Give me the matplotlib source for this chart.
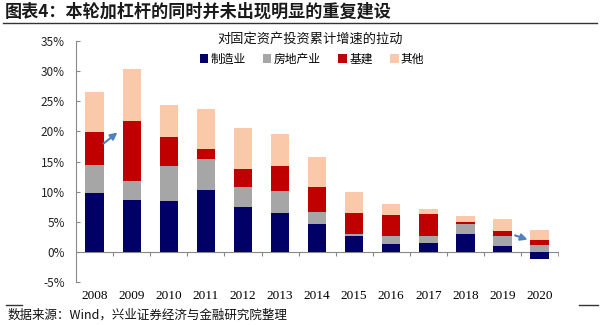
import numpy as np
import matplotlib
matplotlib.use("Agg")
from matplotlib import pyplot as plt
from matplotlib.lines import Line2D
from matplotlib.ticker import FuncFormatter

plt.rcParams['font.family'] = ['Noto Sans CJK SC', 'DejaVu Sans']

years = ['2008', '2009', '2010', '2011', '2012', '2013', '2014',
         '2015', '2016', '2017', '2018', '2019', '2020']
series_names = ['制造业', '房地产业', '基建', '其他']
manufacturing = [9.7, 8.6, 8.4, 10.2, 7.5, 6.4, 4.6, 2.7, 1.4, 1.5, 2.9, 1.0, -1.1]
real_estate = [4.7, 3.2, 5.9, 5.2, 3.2, 3.7, 2.0, 0.2, 1.2, 1.2, 1.7, 1.7, 1.2]
infrastructure = [5.5, 9.9, 4.7, 1.6, 3.0, 4.2, 4.1, 3.6, 3.5, 3.6, 0.4, 0.8, 0.8]
other = [6.6, 8.6, 5.4, 6.7, 6.8, 5.2, 5.0, 3.5, 1.9, 0.9, 1.0, 1.9, 1.7]
colors = ['#000066', '#a6a6a6', '#c00000', '#f9c9a9']

fig = plt.figure(figsize=(6, 3.25), dpi=100)
ax = fig.add_axes([0.127, 0.132, 0.803, 0.742])

x = np.arange(len(years))
pos_base = np.zeros(len(years))
neg_base = np.zeros(len(years))
handles = []
for vals, name, c in zip([manufacturing, real_estate, infrastructure, other], series_names, colors):
    v = np.array(vals)
    bottom = np.where(v >= 0, pos_base, neg_base)
    h = ax.bar(x, v, 0.5, bottom=bottom, color=c, label=name)
    handles.append(h)
    pos_base = pos_base + np.where(v >= 0, v, 0)
    neg_base = neg_base + np.where(v < 0, v, 0)

ax.set_xlim(-0.5, len(years) - 0.5)
ax.set_ylim(-5, 35)
ax.set_yticks(np.arange(-5, 36, 5))
ax.yaxis.set_major_formatter(FuncFormatter(lambda v, p: f'{v:.0f}%'))
ax.tick_params(axis='y', direction='in', length=3, color='#888888', labelsize=8.5,
               labelcolor='#222222', pad=8)
ax.set_xticks(x)
ax.set_xticklabels(years, family=['Liberation Serif'], fontsize=9.5)
ax.tick_params(axis='x', length=0, pad=6)
for s in ['top', 'right', 'bottom']:
    ax.spines[s].set_visible(False)
ax.spines['left'].set_color('#888888')

# zero line with separator ticks
zero = ax.secondary_xaxis(0, transform=ax.transData)
zero.set_xticks(x[:-1] + 0.5)
zero.set_xticks([len(years) - 0.5], minor=True)
zero.tick_params(which='both', direction='out', length=3, color='#888888', labelbottom=False)
zero.spines['bottom'].set_color('#888888')

# arrows
arrow = dict(arrowstyle='-|>', color='#4f81bd', lw=1.5, mutation_scale=10)
ax.annotate('', xy=(0.67, 20.1), xytext=(0.18, 17.7), arrowprops=arrow)
ax.annotate('', xy=(11.75, 1.9), xytext=(11.27, 2.9), arrowprops=arrow)

fig.text(0.008, 1 - 12 / 325, '图表4：本轮加杠杆的同时并未出现明显的重复建设',
         fontsize=12.3, fontweight='bold', va='center', ha='left', color='#1a1a1a')
fig.add_artist(Line2D([0.005, 0.995], [1 - 23 / 325] * 2, color='#333333', lw=1))
fig.text(0.517, 1 - 39 / 325, '对固定资产投资累计增速的拉动', fontsize=9.5,
         ha='center', va='center', color='#111111')
fig.legend(handles=handles, loc='center', bbox_to_anchor=(0.52, 1 - 59 / 325),
           ncol=4, frameon=False, fontsize=8.5, handlelength=0.7, handleheight=0.7,
           handletextpad=0.2, columnspacing=1.5)

fig.add_artist(Line2D([0.01, 0.036], [1 - 305 / 325] * 2, color='#333333', lw=1))
fig.add_artist(Line2D([0.965, 0.997], [1 - 305 / 325] * 2, color='#333333', lw=1))
fig.text(0.013, 1 - 315 / 325, '数据来源：Wind，兴业证券经济与金融研究院整理',
         fontsize=9, ha='left', va='center', color='#111111')

fig.savefig('out.png', dpi=100)
